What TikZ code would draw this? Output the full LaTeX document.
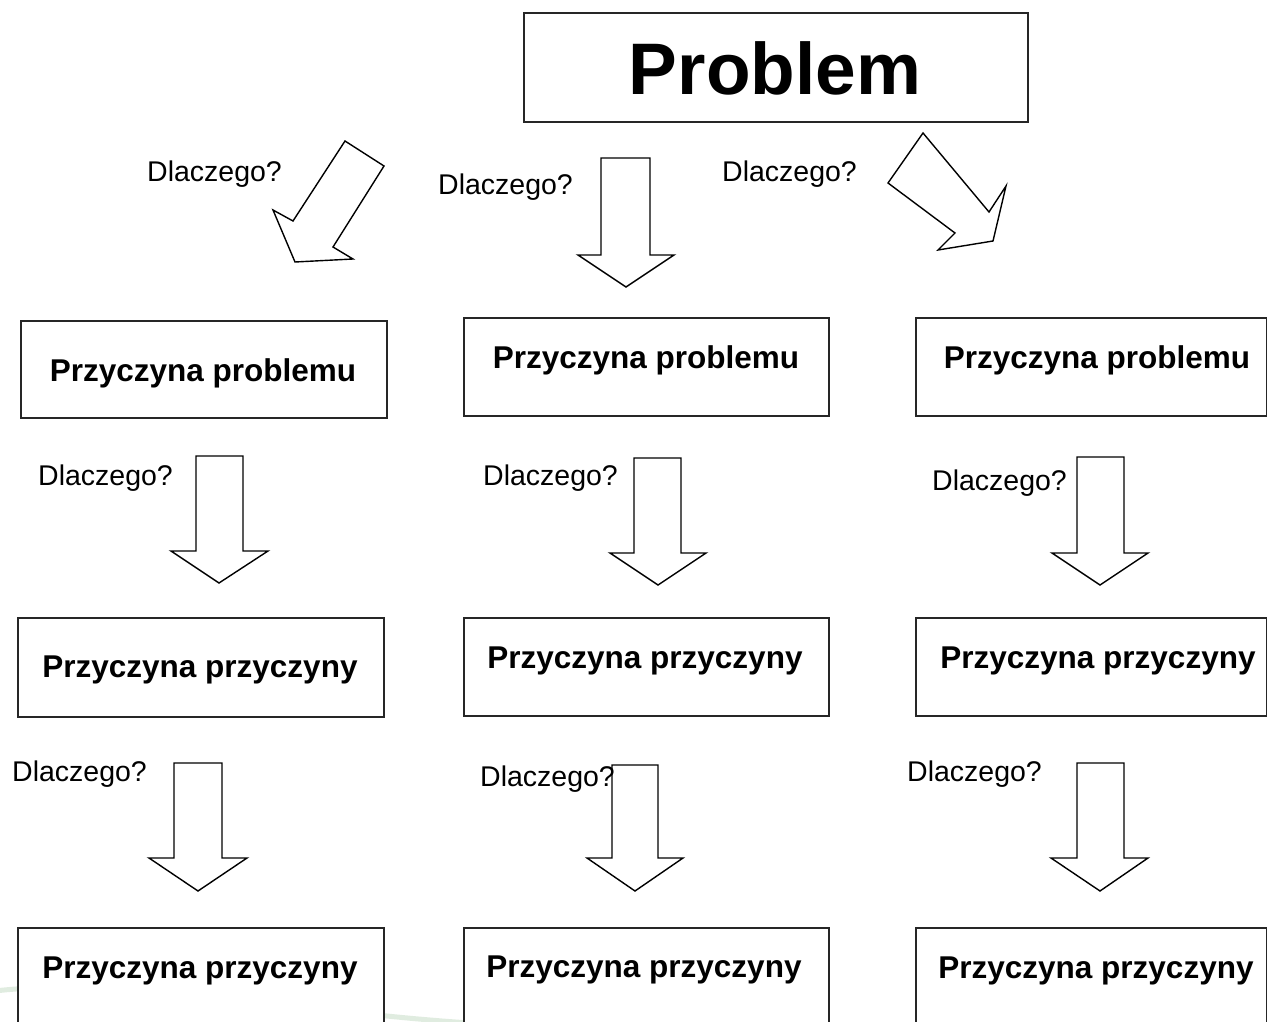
\documentclass[tikz,border=0pt]{standalone}
\usepackage{fontspec}
\setmainfont{Liberation Sans}
\newcommand\blockdown[9]{%
  \draw[arr] (#2,#4) -- (#3,#4) -- (#3,#5) -- (#7,#5) -- (#8,#9) -- (#6,#5) -- (#2,#5) -- cycle;
  \coordinate (#1) at (#8,#9);}
\begin{document}
\begin{tikzpicture}[x=1pt,y=-1pt,
  box/.style={draw=black!85, line width=1.6pt, fill=white, inner sep=0pt, anchor=north west},
  arr/.style={draw, line width=1.4pt, fill=white, line join=miter},
  why/.style={font=\fontsize{28.5}{30}\selectfont, anchor=base west, inner sep=0pt},
  cause/.style={font=\fontsize{31.5}{34}\selectfont\bfseries, anchor=base, inner sep=0pt},
  title/.style={font=\fontsize{73}{80}\selectfont\bfseries, anchor=base, inner sep=0pt}]
\useasboundingbox (0,0) rectangle (1267,1022);
\fill[white] (0,0) rectangle (1267,1022);
\begin{scope}
\clip (0,0) rectangle (1267,1022);
% faint background swoosh
\draw[green!40!black!30!white, line width=5pt, opacity=0.4, line cap=round] (-5,991) .. controls (120,976) and (300,1012) .. (470,1023);
% title box
\node[box, minimum width=504pt, minimum height=109pt] (pbox) at (523,12) {};
\node[title] (ptext) at (775,95) {Problem};
% row 1 boxes
\node[box, minimum width=366pt, minimum height=97pt] (b1l) at (20,320) {};
\node[box, minimum width=365pt, minimum height=98pt] (b1m) at (463,317) {};
\node[box, minimum width=351pt, minimum height=98pt] (b1r) at (915,317) {};
\node[cause] (t1l) at (203,381) {Przyczyna problemu};
\node[cause] (t1m) at (646,368) {Przyczyna problemu};
\node[cause] (t1r) at (1097,368) {Przyczyna problemu};
% row 2 boxes
\node[box, minimum width=366pt, minimum height=99pt] (b2l) at (17,617) {};
\node[box, minimum width=365pt, minimum height=98pt] (b2m) at (463,617) {};
\node[box, minimum width=351pt, minimum height=98pt] (b2r) at (915,617) {};
\node[cause] (t2l) at (200,677) {Przyczyna przyczyny};
\node[cause] (t2m) at (645,668) {Przyczyna przyczyny};
\node[cause] (t2r) at (1098,668) {Przyczyna przyczyny};
% row 3 boxes (cut by the lower edge)
\node[box, minimum width=366pt, minimum height=120pt] (b3l) at (17,927) {};
\node[box, minimum width=365pt, minimum height=120pt] (b3m) at (463,927) {};
\node[box, minimum width=351pt, minimum height=120pt] (b3r) at (915,927) {};
\node[cause] (t3l) at (200,978) {Przyczyna przyczyny};
\node[cause] (t3m) at (644,977) {Przyczyna przyczyny};
\node[cause] (t3r) at (1096,978) {Przyczyna przyczyny};
% top arrows
\draw[arr] (345,141) -- (384,166) -- (333,247) -- (353,259) -- (295,262) -- (273,210) -- (293,221) -- cycle;
\blockdown{a0m}{601}{650}{158}{255}{578}{674}{626}{287}
\draw[arr] (923,133) -- (888,183) -- (955,233) -- (938,250) -- (993,241) -- (1006,186) -- (989,212) -- cycle;
% row 1 -> 2 arrows
\blockdown{a1l}{196}{243}{456}{551}{171}{268}{219}{583}
\blockdown{a1m}{634}{681}{458}{553}{610}{706}{658}{585}
\blockdown{a1r}{1077}{1124}{457}{553}{1052}{1148}{1100}{585}
% row 2 -> 3 arrows
\blockdown{a2l}{174}{222}{763}{858}{149}{247}{198}{891}
\blockdown{a2m}{612}{658}{765}{858}{587}{683}{635}{891}
\blockdown{a2r}{1077}{1124}{763}{858}{1051}{1148}{1100}{891}
% labels
\node[why] (q0l) at (147,182) {Dlaczego?};
\node[why] (q0m) at (438,194) {Dlaczego?};
\node[why] (q0r) at (722,182) {Dlaczego?};
\node[why] (q1l) at (38,485) {Dlaczego?};
\node[why] (q1m) at (483,485) {Dlaczego?};
\node[why] (q1r) at (932,490) {Dlaczego?};
\node[why] (q2l) at (12,781) {Dlaczego?};
\node[why] (q2m) at (480,786) {Dlaczego?};
\node[why] (q2r) at (907,781) {Dlaczego?};
\end{scope}
\end{tikzpicture}
\end{document}
